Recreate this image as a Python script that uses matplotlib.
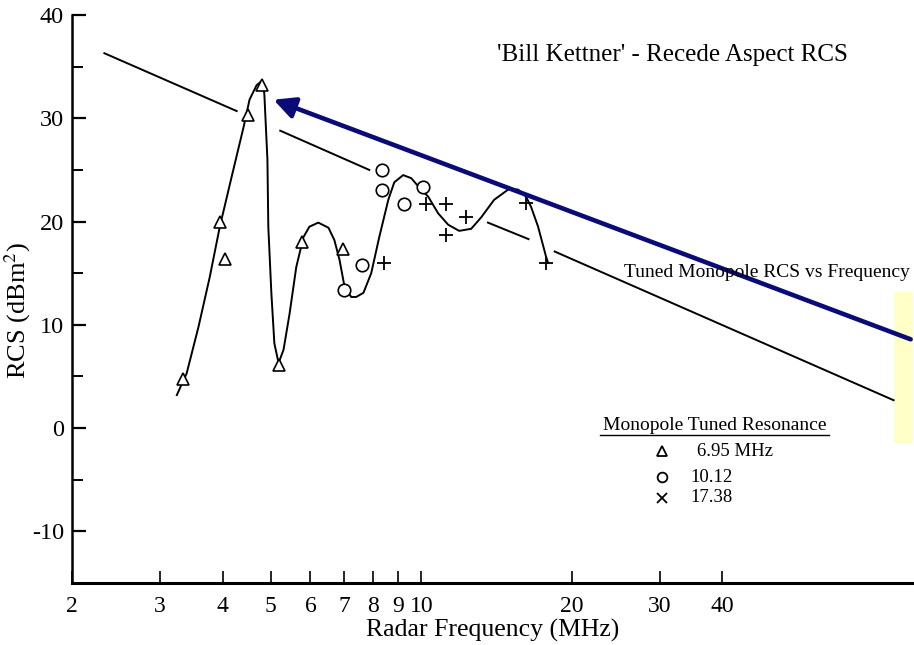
import numpy as np
import matplotlib.pyplot as plt
from matplotlib.lines import Line2D
from matplotlib.patches import Rectangle

plt.rcParams['font.family'] = ['Liberation Serif', 'DejaVu Serif']
plt.rcParams['mathtext.fontset'] = 'stix'
plt.rcParams['axes.unicode_minus'] = False

# measured points, grouped by monopole tuned resonance
tri_freq = [3.33, 3.96, 4.05, 4.49, 4.79, 5.18, 5.78, 6.98]
tri_rcs = [4.8, 20.0, 16.4, 30.3, 33.2, 6.1, 18.0, 17.3]

circ_freq = [7.01, 7.62, 8.36, 8.36, 9.25, 10.1]
circ_rcs = [13.4, 15.8, 25.0, 23.1, 21.7, 23.3]

plus_freq = [8.43, 10.2, 11.2, 11.2, 12.3, 16.2, 17.8]
plus_rcs = [16.0, 21.7, 21.7, 18.7, 20.4, 21.8, 16.0]

# faired curve through the measurements
curve_freq = [3.24, 3.39, 3.58, 3.77, 3.95, 4.17, 4.41, 4.53, 4.68, 4.79,
              4.85, 4.92, 4.94, 5.01, 5.08, 5.18, 5.30, 5.45, 5.62, 5.81,
              5.97, 6.22, 6.52, 6.70, 6.86, 7.02, 7.24, 7.41, 7.66, 7.94,
              8.24, 8.59, 8.83, 9.20, 9.55, 9.91, 10.33, 10.81, 11.32, 11.91,
              12.59, 13.18, 13.99, 14.93, 15.63, 16.22, 16.60, 17.14, 17.78, 17.95]
curve_rcs = [3.2, 5.3, 9.8, 14.6, 19.5, 24.3, 29.2, 31.8, 33.2, 33.6,
             32.4, 26.0, 19.5, 13.1, 8.2, 6.3, 7.6, 11.1, 15.6, 18.5,
             19.5, 19.9, 19.4, 18.2, 16.3, 13.7, 12.7, 12.7, 13.1, 15.0,
             18.5, 22.1, 23.8, 24.5, 24.2, 23.3, 22.4, 20.8, 19.7, 19.1,
             19.3, 20.4, 22.1, 23.1, 23.1, 22.4, 21.4, 19.5, 16.6, 16.0]

# tuned monopole RCS vs frequency, drawn in broken pieces
mono_segments = [
    ([2.32, 4.27], [36.3, 30.7]),
    ([5.22, 7.87], [28.8, 25.0]),
    ([13.6, 16.4], [19.9, 18.3]),
    ([18.5, 88.3], [17.1, 2.7]),
]

x_ticks = [2, 3, 4, 5, 6, 7, 8, 9, 10, 20, 30, 40]
y_ticks = [-10, 0, 10, 20, 30, 40]

key_markers = ['^', 'o', 'x']
key_labels = ['6.95 MHz', '10.12', '17.38']

fig = plt.figure(figsize=(9.14, 6.45), dpi=100)
ax = fig.add_axes([0.0790, 0.0961, 0.9210, 0.8806])
ax.set_xscale('log')
ax.set_xlim(2, 97)
ax.set_ylim(-15, 40)

# highlight band at the right edge
ax.add_patch(Rectangle((88.3, -1.4), 96.6 - 88.3, 14.6, facecolor='#ffffc8',
                       edgecolor='none', zorder=0.5, clip_on=False))

for fx, ry in mono_segments:
    ax.plot(fx, ry, color='black', lw=1.4, zorder=2)

ax.plot(curve_freq, curve_rcs, color='black', lw=1.4, zorder=2)

mk = dict(linestyle='none', color='black', zorder=3)
ax.plot(tri_freq, tri_rcs, marker='^', markersize=9, markerfacecolor='white',
        markeredgewidth=1.2, **mk)
ax.plot(circ_freq, circ_rcs, marker='o', markersize=9, markerfacecolor='white',
        markeredgewidth=1.2, **mk)
ax.plot(plus_freq, plus_rcs, marker='+', markersize=10, markeredgewidth=1.3, **mk)

ax.annotate('', xy=(5.06, 31.8), xytext=(95.5, 8.6),
            arrowprops=dict(arrowstyle='-|>', color='#0b0b78', lw=3.3,
                            mutation_scale=32, shrinkA=0, shrinkB=0),
            annotation_clip=False, zorder=4)

ax.spines['top'].set_visible(False)
ax.spines['right'].set_visible(False)
ax.spines['left'].set_linewidth(1.8)
ax.spines['bottom'].set_linewidth(2.2)

ax.set_xticks(x_ticks)
ax.set_xticklabels([str(t) for t in x_ticks])
ax.set_xticks([10], minor=True)
ax.xaxis.set_minor_formatter(plt.NullFormatter())
ax.tick_params(axis='x', which='major', direction='in', length=9, width=1.2,
               labelsize=17, pad=9)
ax.tick_params(axis='x', which='minor', direction='in', length=15, width=1.2)

ax.set_yticks(y_ticks)
ax.set_yticks(np.arange(-15, 41, 5), minor=True)
ax.tick_params(axis='y', which='major', direction='in', length=10, width=1.6,
               labelsize=17.5, pad=6)
ax.tick_params(axis='y', which='minor', direction='in', length=8, width=1.4)

ax.set_xlabel('Radar Frequency (MHz)', fontsize=18.5, labelpad=2)
ax.set_ylabel('RCS (dBm$^2$)', fontsize=19)
ax.yaxis.set_label_coords(-0.046, 0.48)

fig.text(0.736, 0.914, "'Bill Kettner' - Recede Aspect RCS", fontsize=18,
         ha='center', va='center')
fig.text(0.9956, 0.578, 'Tuned Monopole RCS vs Frequency', fontsize=14,
         ha='right', va='center')

# key for the three resonances
fig.text(0.7825, 1 - 425 / 645, 'Monopole Tuned Resonance', fontsize=14,
         ha='center', va='center')
fig.add_artist(Line2D([600 / 914, 829 / 914], [1 - 435 / 645, 1 - 435 / 645],
                      color='black', lw=1.0))
key_text_x = [697, 690, 690]
key_y = [451, 477, 498]
for m, lab, tx, py in zip(key_markers, key_labels, key_text_x, key_y):
    fy = 1 - py / 645
    fig.add_artist(Line2D([662 / 914], [fy], marker=m, markersize=7,
                          markerfacecolor='white', markeredgecolor='black',
                          markeredgewidth=1.3, linestyle='none'))
    fig.text(tx / 914, fy, lab, fontsize=13.5, ha='left', va='center')

fig.savefig('out.png', dpi=100)
